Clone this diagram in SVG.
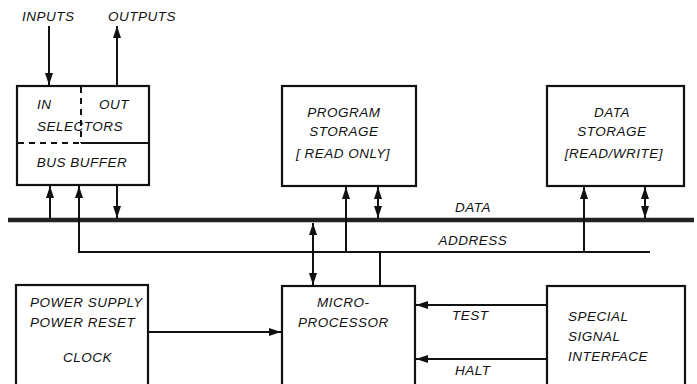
<svg xmlns="http://www.w3.org/2000/svg" width="697" height="384" viewBox="0 0 697 384">
<style>
.box{fill:#fff;stroke:#111;stroke-width:2.2}
.ln{fill:none;stroke:#111;stroke-width:2}
.bus{fill:none;stroke:#222;stroke-width:4.5}
.t{font-family:"Liberation Sans",Arial,sans-serif;font-style:italic;font-size:13.5px;fill:#111;letter-spacing:0.5px}
.c{text-anchor:middle}
</style>
<defs>
<marker id="ah" viewBox="0 0 12 8" refX="12" refY="4" markerWidth="12" markerHeight="8" markerUnits="userSpaceOnUse" orient="auto-start-reverse">
<path d="M0,0 L12,4 L0,8 Z" fill="#111"/>
</marker>
</defs>
<rect width="697" height="384" fill="#fff"/>

<g id="connectors">
<line class="bus" x1="8" y1="220" x2="694" y2="220"/>
<polyline class="ln" points="650,252 79,252 79,186" marker-end="url(#ah)"/>
<line class="ln" x1="49" y1="26" x2="49" y2="85" marker-end="url(#ah)"/>
<line class="ln" x1="117" y1="85" x2="117" y2="26" marker-end="url(#ah)"/>
<line class="ln" x1="50" y1="218" x2="50" y2="186" marker-end="url(#ah)"/>
<line class="ln" x1="117" y1="186" x2="117" y2="218" marker-end="url(#ah)"/>
<line class="ln" x1="346" y1="252" x2="346" y2="187" marker-end="url(#ah)"/>
<line class="ln" x1="378" y1="187" x2="378" y2="218" marker-start="url(#ah)" marker-end="url(#ah)"/>
<line class="ln" x1="584" y1="252" x2="584" y2="187" marker-end="url(#ah)"/>
<line class="ln" x1="645" y1="187" x2="645" y2="218" marker-start="url(#ah)" marker-end="url(#ah)"/>
<line class="ln" x1="313" y1="223" x2="313" y2="285" marker-start="url(#ah)" marker-end="url(#ah)"/>
<line class="ln" x1="380" y1="252" x2="380" y2="286"/>
<line class="ln" x1="148" y1="332" x2="281" y2="332" marker-end="url(#ah)"/>
<line class="ln" x1="547" y1="305" x2="416" y2="305" marker-end="url(#ah)"/>
<line class="ln" x1="547" y1="359" x2="416" y2="359" marker-end="url(#ah)"/>
<text class="t c" x="473" y="212">DATA</text>
<text class="t c" x="473" y="245">ADDRESS</text>
<text class="t" x="452" y="320">TEST</text>
<text class="t" x="455" y="375">HALT</text>
<text class="t" x="22" y="21" font-size="11">INPUTS</text>
<text class="t" x="108" y="21" font-size="11">OUTPUTS</text>
</g>

<g id="selectors">
<rect class="box" x="17" y="86" width="132" height="99"/>
<line class="ln" x1="81" y1="87" x2="81" y2="143" stroke-dasharray="6,5"/>
<line class="ln" x1="18" y1="143" x2="81" y2="143" stroke-dasharray="6,5"/>
<line class="ln" x1="81" y1="143" x2="148" y2="143"/>
<text class="t" x="37" y="109">IN</text>
<text class="t" x="99" y="109">OUT</text>
<text class="t c" x="80" y="131">SELECTORS</text>
<text class="t c" x="82" y="167">BUS BUFFER</text>
</g>

<g id="program-storage">
<rect class="box" x="282" y="86" width="134" height="100"/>
<text class="t c" x="344" y="117">PROGRAM</text>
<text class="t c" x="344" y="136">STORAGE</text>
<text class="t c" x="343" y="158">[ READ ONLY]</text>
</g>

<g id="data-storage">
<rect class="box" x="547" y="86" width="137" height="100"/>
<text class="t c" x="612" y="117">DATA</text>
<text class="t c" x="612" y="136">STORAGE</text>
<text class="t c" x="614" y="158">[READ/WRITE]</text>
</g>

<g id="power-supply">
<rect class="box" x="16" y="285" width="132" height="110"/>
<text class="t" x="30" y="307">POWER SUPPLY</text>
<text class="t" x="30" y="327">POWER RESET</text>
<text class="t" x="63" y="362">CLOCK</text>
</g>

<g id="microprocessor">
<rect class="box" x="282" y="286" width="133" height="110"/>
<text class="t" x="317" y="307">MICRO-</text>
<text class="t" x="298" y="327">PROCESSOR</text>
</g>

<g id="special-signal-interface">
<rect class="box" x="547" y="286" width="138" height="110"/>
<text class="t" x="568" y="321">SPECIAL</text>
<text class="t" x="568" y="341">SIGNAL</text>
<text class="t" x="568" y="361">INTERFACE</text>
</g>
</svg>
